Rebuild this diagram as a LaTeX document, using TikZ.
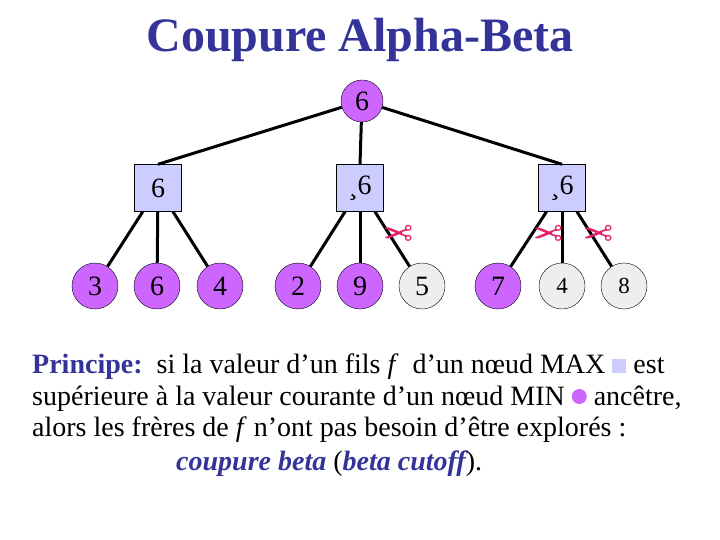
\documentclass[tikz,border=0pt]{standalone}
\usepackage{fontspec}
\setmainfont{Liberation Serif}
\newfontfamily\dingfont{DejaVu Sans}
\definecolor{minc}{HTML}{CC66FF}
\definecolor{maxc}{HTML}{CCCCFF}
\definecolor{cutc}{HTML}{EEEEEE}
\definecolor{titc}{HTML}{333399}
\definecolor{scic}{HTML}{E0206A}
\begin{document}
\begin{tikzpicture}[x=1pt,y=-1pt,
  mn/.style={circle,draw,fill=minc,minimum size=46pt,inner sep=0pt,font=\fontsize{28}{28}\selectfont},
  ct/.style={mn,fill=cutc},
  mx/.style={rectangle,draw,fill=maxc,minimum size=47pt,inner sep=0pt,font=\fontsize{28}{28}\selectfont},
  ed/.style={line width=3pt},
  sc/.style={text=scic,font=\dingfont\fontsize{36}{36}\selectfont,xscale=-1},
  body/.style={anchor=base west,font=\fontsize{28}{28}\selectfont,inner sep=0pt}]
\useasboundingbox (0,0) rectangle (720,540);
\node[font=\bfseries\fontsize{48}{48}\selectfont,text=titc] (title) at (360,40) {Coupure Alpha-Beta};
\node[mn,minimum size=42pt] (r) at (362,101) {6};
\node[mx] (a) at (158,188) {6};
\node[mx] (b) at (360,188) {¸6};
\node[mx] (c) at (562,188) {¸6};
\node[mn] (l1) at (95,286) {3};
\node[mn] (l2) at (157,286) {6};
\node[mn] (l3) at (220,286) {4};
\node[mn] (l4) at (298,286) {2};
\node[mn] (l5) at (360,286) {9};
\node[ct] (l6) at (422,286) {5};
\node[mn] (l7) at (498,286) {7};
\node[ct,font=\fontsize{23}{23}\selectfont] (l8) at (562,286) {4};
\node[ct,font=\fontsize{23}{23}\selectfont] (l9) at (624,286) {8};
\draw[ed] (r) -- (a.north); \draw[ed] (r) -- (b.north); \draw[ed] (r) -- (c.north);
\foreach \p/\k in {a/l1,a/l2,a/l3,b/l4,b/l5,b/l6,c/l7,c/l8,c/l9}
  \draw[ed] (\p) -- (\k);
\node[sc] (s1) at (398,236) {✂};
\node[sc] (s2) at (548,236) {✂};
\node[sc] (s3) at (598,236) {✂};
\node[body] (t1) at (32,373) {{\bfseries\color{titc}Principe:}\ \ si la valeur d’un fils \textit{f} \ d’un nœud MAX {\color{maxc}\rule{14pt}{14pt}} est};
\node[body] (t2) at (32,405) {supérieure à la valeur courante d’un nœud MIN {\color{minc}\raisebox{1pt}{\tikz\fill (0,0) circle (7.5pt);}} ancêtre,};
\node[body] (t3) at (32,436) {alors les frères de \textit{f} n’ont pas besoin d’être explorés :};
\node[body] (t4) at (176,470) {{\color{titc}\bfseries\itshape coupure beta} ({\color{titc}\bfseries\itshape beta cutoff}).};
\end{tikzpicture}
\end{document}
